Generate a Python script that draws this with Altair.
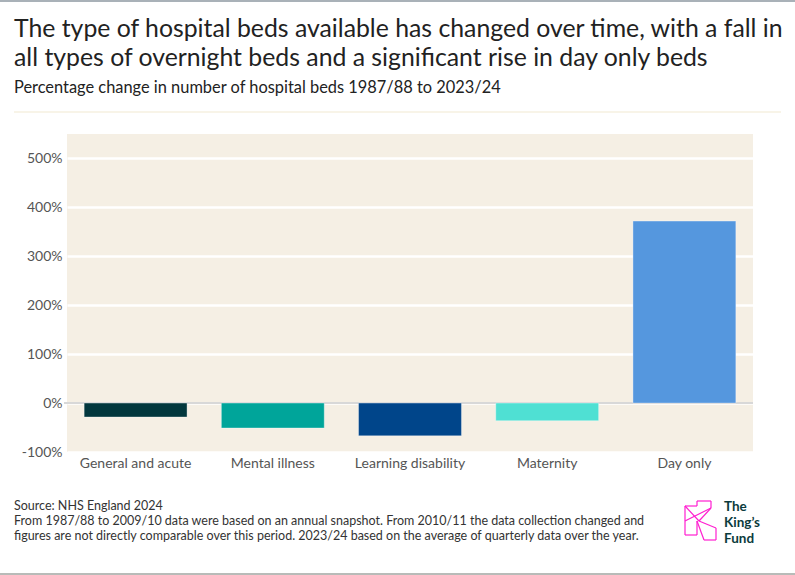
import altair as alt
import pandas as pd

categories = ["General and acute", "Mental illness", "Learning disability", "Maternity", "Day only"]
values = [-28.5, -51, -67, -36, 372]
colors = ["#02373d", "#00a59a", "#00458a", "#4fe0d3", "#5597de"]
y_ticks = [-100, 0, 100, 200, 300, 400, 500]

title_lines = [
    "The type of hospital beds available has changed over time, with a fall in",
    "all types of overnight beds and a significant rise in day only beds",
]
subtitle = "Percentage change in number of hospital beds 1987/88 to 2023/24"
footer_lines = [
    "Source: NHS England 2024",
    "From 1987/88 to 2009/10 data were based on an annual snapshot. From 2010/11 the data collection changed and",
    "figures are not directly comparable over this period. 2023/24 based on the average of quarterly data over the year.",
]
logo_lines = ["The", "King\u2019s", "Fund"]

FONT = "Lato"
W, H = 686, 318
L, T = 67, 134

df = pd.DataFrame({"cat": categories, "val": values, "col": colors})

x = alt.X("cat:N", sort=categories, title=None,
          scale=alt.Scale(paddingInner=0.25, paddingOuter=0.125),
          axis=alt.Axis(labelAngle=0, ticks=False, domain=False, labelFont=FONT,
                        labelFontSize=14, labelColor="#555555", labelPadding=4))
y = alt.Y("val:Q", title=None,
          scale=alt.Scale(domain=[-100, 550], nice=False, zero=False),
          axis=alt.Axis(values=y_ticks, format=".0f", labelExpr="datum.value + '%'",
                        ticks=False, domain=False, grid=True, gridColor="#ffffff",
                        gridWidth=2.5, labelFont=FONT, labelFontSize=14,
                        labelColor="#555555", labelPadding=5))

bars = alt.Chart(df).mark_bar(stroke="#ffffff", strokeOpacity=0.35, strokeWidth=1).encode(
    x=x, y=y, color=alt.Color("col:N", scale=None, legend=None)
)

zero = alt.Chart(pd.DataFrame({"z": [0]})).mark_rule(color="#d8d8d8", strokeWidth=2).encode(
    y=alt.Y("z:Q", scale=alt.Scale(domain=[-100, 550], nice=False, zero=False)),
    x=alt.value(-3), x2=alt.value(W)
)

one = pd.DataFrame({"a": [0]})
layers = [zero, bars]


def txt(s, px, py, size, color="#222222", weight="normal", font=FONT, **kw):
    return alt.Chart(one).mark_text(
        text=s, align="left", baseline="alphabetic", font=font, fontSize=size,
        color=color, fontWeight=weight, **kw
    ).encode(x=alt.value(px - L), y=alt.value(py - T))


layers.append(txt(title_lines[0], 14, 37, 24.8))
layers.append(txt(title_lines[1], 14, 66, 24.8))
layers.append(txt(subtitle, 14, 93, 16.4))
for i, s in enumerate(footer_lines):
    layers.append(txt(s, 14, 510 + 15 * i, 12.5, color="#333333"))
for i, s in enumerate(logo_lines):
    layers.append(txt(s, 724, 511 + 16 * i, 13.5, color="#0b3b3c", weight="bold"))


def rule(x1, y1, x2, y2, color, w=1.5):
    return alt.Chart(one).mark_rule(color=color, strokeWidth=w).encode(
        x=alt.value(x1 - L), y=alt.value(y1 - T), x2=alt.value(x2 - L), y2=alt.value(y2 - T)
    )


# separator and frame lines
layers.append(rule(14, 112, 781, 112, "#f2ead2", 1.2))
layers.append(rule(0, 1, 795, 1, "#a9b1b8", 2))
layers.append(rule(0, 574, 795, 574, "#b8bbb8", 2))

# logo K outline
pink = "#ff1fd0"
k_segments = [
    (685, 506, 697, 506), (685, 506, 685, 535), (685, 535, 697, 535), (697, 506, 697, 501),
    (697, 501, 711, 501), (711, 501, 711, 508), (711, 508, 699, 521),
    (699, 521, 716, 528), (716, 528, 716, 540), (716, 540, 704, 540), (704, 540, 697, 521),
    (697, 535, 697, 521), (685, 506, 699, 521), (685, 521, 711, 508),
]
for seg in k_segments:
    layers.append(rule(*seg, pink, 1.2))

chart = alt.layer(*layers).properties(
    width=W, height=H,
    autosize=alt.AutoSizeParams(type="none"),
    padding={"left": L, "top": T, "right": 795 - L - W, "bottom": 575 - T - H},
    background="#ffffff",
).configure_view(fill="#f5efe4", stroke=None)

chart.save("out.html", embed_options={"renderer": "svg", "actions": False})
